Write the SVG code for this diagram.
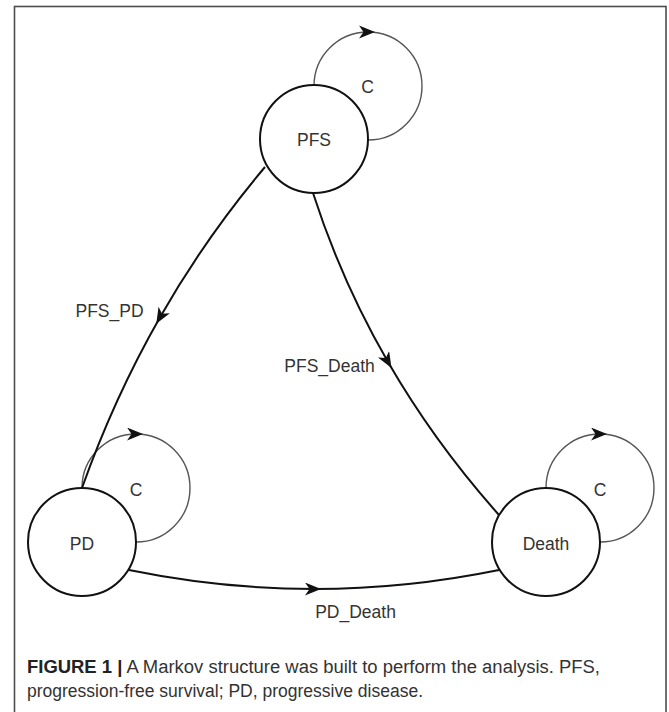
<svg xmlns="http://www.w3.org/2000/svg" width="669" height="712" viewBox="0 0 669 712">
<style>
.node{fill:#fff;stroke:#111;stroke-width:2}
.loop{fill:none;stroke:#555;stroke-width:1.4;marker-mid:url(#arr)}
.edge{fill:none;stroke:#111;stroke-width:2;marker-mid:url(#arr)}
.lbl{font-family:"Liberation Sans",Arial,sans-serif;font-size:17.5px;fill:#333;text-anchor:middle}
.cap{font-family:"Liberation Sans",Arial,sans-serif;font-size:18px;fill:#333}
</style>
<defs>
<marker id="arr" viewBox="0 0 16 13" refX="9" refY="6.5" markerWidth="16" markerHeight="13" markerUnits="userSpaceOnUse" orient="auto">
<path d="M16,6.5 L0,0 L4.5,6.5 L0,13 Z" fill="#111"/>
</marker>
</defs>
<rect x="14.5" y="6.5" width="651.5" height="720" fill="#fff" stroke="#4d4d4d" stroke-width="1.6"/>
<g id="connectors">
<path class="loop" d="M314,86 A54,54 0 0 1 368,32 A54,54 0 1 1 368,140"/>
<path class="loop" d="M82,488 A54,54 0 0 1 136,434 A54,54 0 1 1 136,542"/>
<path class="loop" d="M546,488 A54,54 0 0 1 600,434 A54,54 0 1 1 600,542"/>
<path class="edge" d="M265,167 Q205.5,237.5 159.75,317.75 Q114,398 82,488"/>
<path class="edge" d="M313,193 Q341.5,281.5 388,362 Q434.5,442.5 499,515"/>
<path class="edge" d="M129,570 Q222,589 314,589 Q406,589 499,570"/>
<text class="lbl" x="367.5" y="93">C</text>
<text class="lbl" x="136" y="496">C</text>
<text class="lbl" x="600" y="496">C</text>
<text class="lbl" x="109.5" y="317">PFS_PD</text>
<text class="lbl" x="329.5" y="372">PFS_Death</text>
<text class="lbl" x="355.5" y="618">PD_Death</text>
</g>
<g id="PFS">
<circle class="node" cx="314" cy="139" r="54"/>
<text class="lbl" x="314" y="146">PFS</text>
</g>
<g id="PD">
<circle class="node" cx="82" cy="542" r="54"/>
<text class="lbl" x="82" y="550">PD</text>
</g>
<g id="Death">
<circle class="node" cx="546" cy="542" r="54"/>
<text class="lbl" x="546" y="550">Death</text>
</g>
<g id="caption">
<text class="cap" x="27" y="673" textLength="573" lengthAdjust="spacingAndGlyphs"><tspan font-weight="bold" fill="#222">FIGURE 1 |</tspan> A Markov structure was built to perform the analysis. PFS,</text>
<text class="cap" x="27" y="697" textLength="396" lengthAdjust="spacingAndGlyphs">progression-free survival; PD, progressive disease.</text>
</g>
</svg>
